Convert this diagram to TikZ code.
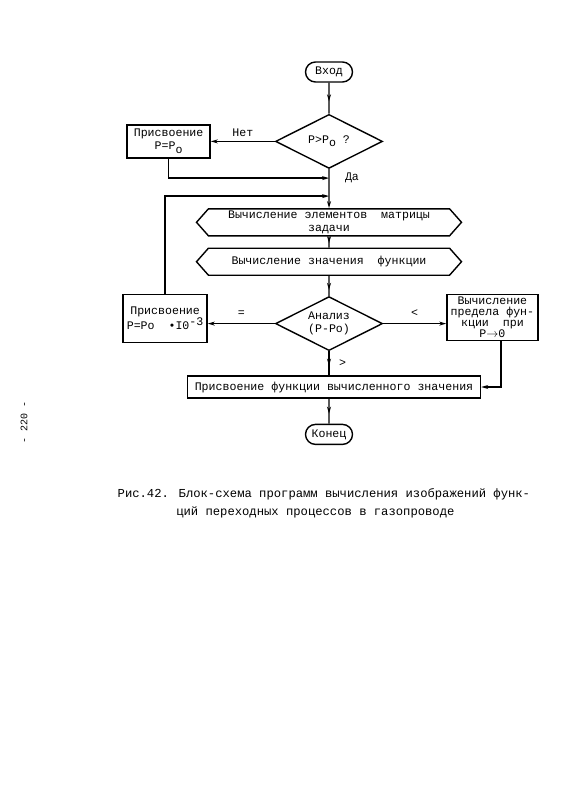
\documentclass[tikz,border=0pt]{standalone}
\usepackage{fontspec}
\setmainfont{Liberation Mono}
\usetikzlibrary{positioning,calc,shapes.geometric,shapes.misc,shapes.symbols,arrows.meta,decorations.markings}
\newcommand{\lowo}{\raisebox{-3.5pt}{o}}

\begin{document}
\begin{tikzpicture}[x=1pt, y=-1pt, line width=1.4pt,
  font=\fontsize{11.6}{13}\selectfont,
  >={Stealth[length=7pt,width=4pt]},
  term/.style={draw, rounded rectangle, minimum height=20pt, inner sep=2pt},
  cond/.style={draw, diamond, aspect=2, minimum width=107pt, minimum height=54pt, inner sep=0pt, align=center},
  proc/.style={draw, rectangle, align=center, inner sep=1pt},
  prep/.style={draw, signal, signal to=west and east, signal pointer angle=97,
    minimum width=265pt, minimum height=27pt, inner sep=1pt, align=center},
  flow/.style={postaction={decorate}, decoration={markings, mark=at position #1 with {\arrow{>}}}},
  flow/.default=0.6]
\useasboundingbox (0,0) rectangle (567,800);
\node[term, minimum width=51pt] (start) at (329,72) {Вход};
\node[cond, below=31pt of start] (test) {P>P\lowo\ ?};
\node[proc, left=64pt of test, minimum width=83pt, minimum height=33pt] (pa) {Присвоение\\P=P\lowo};
\node[prep, below=39pt of test] (elem) {Вычисление элементов~ матрицы\\задачи};
\node[prep, below=11pt of elem] (func) {Вычисление значения~ функции};
\node[cond, below=20pt of func] (an) {Анализ\\(P-Po)};
\node[proc, left=67pt of an, yshift=5pt, minimum width=84pt, minimum height=48pt] (pb) {Присвоение\\P=Po~ •I0\raisebox{4pt}{-3}};
\node[proc, right=63pt of an, yshift=6pt, minimum width=91pt, minimum height=46pt, inner sep=0pt,
  font=\fontsize{11.6}{11}\selectfont] (pc) {Вычисление\\предела фун-\\кции~ при\\P$\to$0};
\node[proc, below=24pt of an, xshift=5pt, minimum width=293pt, minimum height=22pt] (pd) {Присвоение функции вычисленного значения};
\node[term, below=25pt of pd, xshift=-5pt, minimum width=51pt] (stop) {Конец};
\coordinate (j1) at ($(test.south)+(0,9)$);
\coordinate (j2) at ($(test.south)+(0,27)$);
%
\draw[flow] (start) -- (test);
\draw[->] (test) -- node[above=1pt] (lno) {Нет} (pa);
\draw[->] (test) -- (elem);
\node[right=12pt of j1] (lyes) {Да};
\draw[->] (pa.south) |- (j1);
\draw[->] (pb.north) |- (j2);
\draw[flow] (elem) -- (func);
\draw[flow=0.7] (func) -- (an);
\draw[->] (an) -- node[above=3pt] (leq) {=} (pb.east |- an);
\draw[->] (an) -- node[above=3pt] (llt) {<} (pc.west |- an);
\draw[flow] (an) -- node[right=6pt] (lgt) {>} (an |- pd.north);
\draw[->] ([xshift=8.5pt]pc.south) |- (pd.east);
\draw[flow] (stop |- pd.south) -- (stop);
%
\node[rotate=90, font=\fontsize{10}{12}\selectfont] (pnum) at (24,422) {- 220 -};
\node[anchor=north west, align=left, inner sep=0pt, font=\fontsize{12.2}{18}\selectfont] (capt) at (117,488)
  {Рис.42. Блок-схема программ вычисления изображений функ-\\\phantom{Рис.42.~}ций переходных процессов в газопроводе};
\end{tikzpicture}
\end{document}
